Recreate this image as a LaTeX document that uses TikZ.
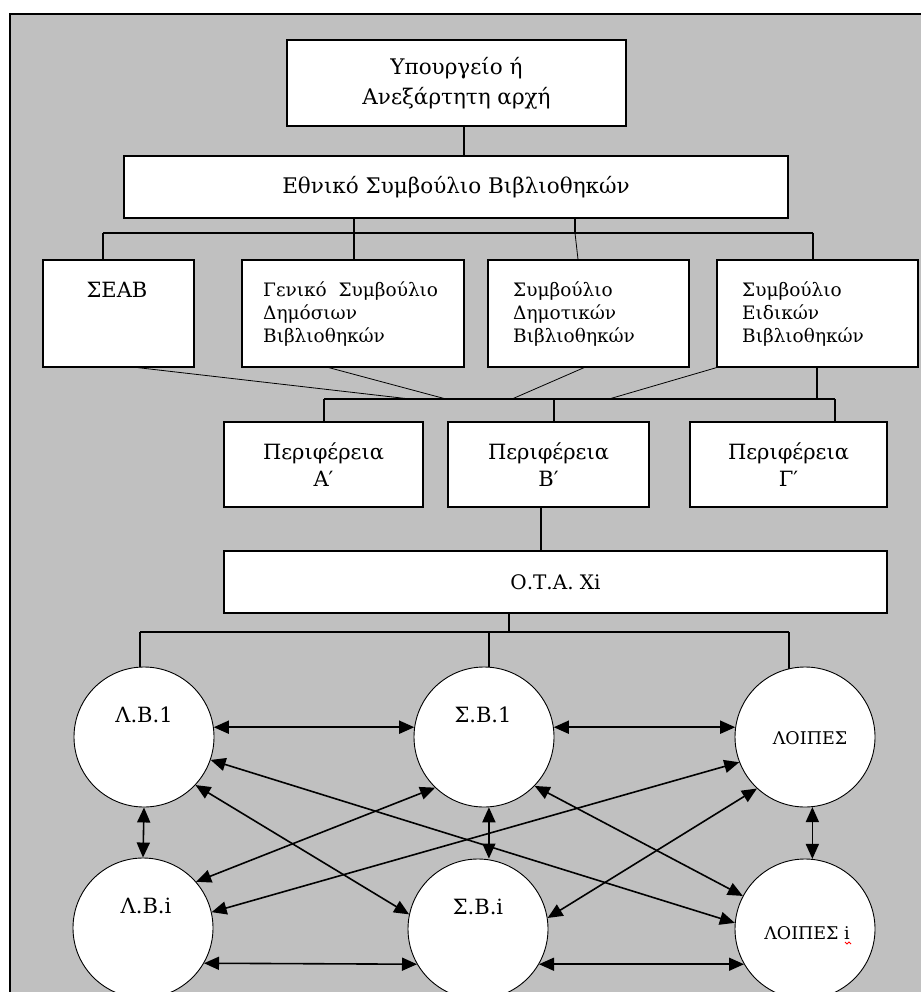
\documentclass[tikz,border=0pt]{standalone}
\usepackage{fontspec}
\setmainfont{DejaVu Serif}
\usetikzlibrary{arrows.meta,calc}
\definecolor{bggray}{HTML}{C0C0C0}
\pgfdeclarelayer{back}
\pgfdeclarelayer{mid}
\pgfsetlayers{back,mid,main}
\begin{document}
\begin{tikzpicture}[x=1pt,y=-1pt,
  box/.style={draw=black,line width=1.3pt,fill=white,inner sep=0pt,rectangle,align=center},
  circ/.style={draw=black,line width=0.9pt,fill=white,circle,minimum size=140pt,inner sep=0pt},
  link/.style={line width=1.1pt},
  slink/.style={line width=0.8pt},
  arr/.style={line width=1.6pt,{Triangle[length=15pt,width=13pt]}-{Triangle[length=15pt,width=13pt]}},
  txt/.style={inner sep=0pt,anchor=base},
  ctext/.style={inner sep=0pt,anchor=north west,align=left,font=\fontsize{18.5}{23}\selectfont},
  big/.style={font=\fontsize{21.5}{30}\selectfont},
  per/.style={font=\fontsize{21}{27}\selectfont},
  clab/.style={txt,font=\fontsize{21}{25}\selectfont},
  slab/.style={txt,font=\fontsize{17.5}{21}\selectfont},
]
\useasboundingbox (0,0) rectangle (920,992);
\begin{pgfonlayer}{back}
  \fill[bggray] (10,14) rectangle (930,1000);
  \draw[line width=1.2pt] (10,1000) -- (10,14) -- (930,14);
\end{pgfonlayer}

% boxes
\node[box,big,minimum width=339pt,minimum height=86pt] (min) at (456.5,83) {Υπουργείο ή\\Ανεξάρτητη αρχή};
\node[box,big,minimum width=664pt,minimum height=62pt] (eth) at (456,187) {Εθνικό Συμβούλιο Βιβλιοθηκών};

\node[box,minimum width=151pt,minimum height=107pt] (seab) at (118.5,313.5) {};
\node[box,minimum width=222pt,minimum height=107pt] (gen) at (353,313.5) {};
\node[box,minimum width=201pt,minimum height=107pt] (dem) at (588.5,313.5) {};
\node[box,minimum width=201pt,minimum height=107pt] (eid) at (817.5,313.5) {};

\node[txt,font=\fontsize{21}{25}\selectfont] (seabt) at (117,297) {ΣΕΑΒ};
\node[ctext] (gent) at (263,282) {Γενικό~~Συμβούλιο\\Δημόσιων\\Βιβλιοθηκών};
\node[ctext] (demt) at (513,282) {Συμβούλιο\\Δημοτικών\\Βιβλιοθηκών};
\node[ctext] (eidt) at (742,282) {Συμβούλιο\\Ειδικών\\Βιβλιοθηκών};

\node[box,per,minimum width=199pt,minimum height=85pt] (pera) at (323.5,464.5) {Περιφέρεια\\Α′};
\node[box,per,minimum width=201pt,minimum height=85pt] (perb) at (548.5,464.5) {Περιφέρεια\\Β′};
\node[box,per,minimum width=197pt,minimum height=85pt] (perg) at (788.5,464.5) {Περιφέρεια\\Γ′};

\node[box,font=\fontsize{20}{24}\selectfont,minimum width=663pt,minimum height=62pt] (ota) at (555.5,582) {Ο.Τ.Α. Xi};

% circles
\node[circ] (lb1) at (144,737) {};
\node[circ] (sb1) at (484,737) {};
\node[circ] (loi) at (805,737) {};
\node[circ] (lbi) at (143,928) {};
\node[circ] (sbi) at (478,929) {};
\node[circ] (loii) at (805,929) {};

\node[clab] (lb1t) at (144,722) {Λ.Β.1};
\node[clab] (sb1t) at (483,722) {Σ.Β.1};
\node[slab] (loit) at (810,744) {ΛΟΙΠΕΣ};
\node[clab] (lbit) at (146,913) {Λ.Β.i};
\node[clab] (sbit) at (478,914) {Σ.Β.i};
\node[slab] (loiit) at (807,939) {ΛΟΙΠΕΣ i};
\draw[red,line width=0.9pt] (845,942) -- (847,944) -- (849,942) -- (851,944);

% tree connectors
\coordinate (b1l) at (103,233);
\coordinate (b1r) at (813,233);
\coordinate (b2l) at (324,399);
\coordinate (b2r) at (835,399);
\coordinate (b3l) at (140,632);
\coordinate (b3r) at (789,632);
\begin{pgfonlayer}{mid}
  \draw[link] (min.south -| 464,0) -- (eth.north -| 464,0);
  \draw[link] (eth.south -| 354,0) -- (b1l -| 354,0);
  \draw[link] (eth.south -| 575,0) -- (b1l -| 575,0);
  \draw[link] (b1l) -- (b1r);
  \draw[link] (b1l) -- (seab.north -| b1l);
  \draw[link] (b1l -| 354,0) -- (gen.north -| 354,0);
  \draw[slink] (b1l -| 575,0) -- (dem.north -| 578,0);
  \draw[link] (b1r) -- (eid.north -| b1r);

  \draw[slink] (seab.south -| 138,0) -- (b2l -| 410,0);
  \draw[slink] (gen.south -| 329,0) -- (b2l -| 446,0);
  \draw[slink] (dem.south -| 584,0) -- (b2l -| 512,0);
  \draw[slink] (eid.south west) -- (b2l -| 609,0);
  \draw[link] (eid.south -| 817,0) -- (b2l -| 817,0);
  \draw[link] (b2l) -- (b2r);
  \draw[link] (b2l) -- (pera.north -| b2l);
  \draw[link] (b2l -| 554,0) -- (perb.north -| 554,0);
  \draw[link] (b2r) -- (perg.north -| b2r);

  \draw[link] (perb.south -| 541,0) -- (ota.north -| 541,0);
  \draw[link] (ota.south -| 509,0) -- (b3l -| 509,0);
  \draw[link] (b3l) -- (b3r);
  \draw[link] (b3l) -- (lb1.center -| b3l);
  \draw[link] (b3l -| 489,0) -- (sb1.center -| 489,0);
  \draw[link] (b3r) -- (loi.center -| b3r);
\end{pgfonlayer}

% arrows
\draw[arr] (lb1.8) -- (sb1.172);
\draw[arr] (sb1.8) -- (loi.172);
\draw[arr] (lbi.-30) -- (sbi.-150);
\draw[arr] (sbi.-30) -- (loii.-150);
\draw[arr] (lb1.south) -- (lbi.north);
\draw[arr] (sb1.-86) -- (sb1.-86 |- sbi.north);
\draw[arr] (loi.-84) -- (loii.84);
\draw[arr] (lb1.-19) -- (loii.175);
\draw[arr] (lb1.-43) -- (sbi.168);
\draw[arr] (sb1.-134) -- (lbi.41);
\draw[arr] (loi.-159) -- (lbi.13);
\draw[arr] (sb1.-44) -- (loii.152);
\draw[arr] (loi.-133) -- (sbi.9);
\end{tikzpicture}
\end{document}
